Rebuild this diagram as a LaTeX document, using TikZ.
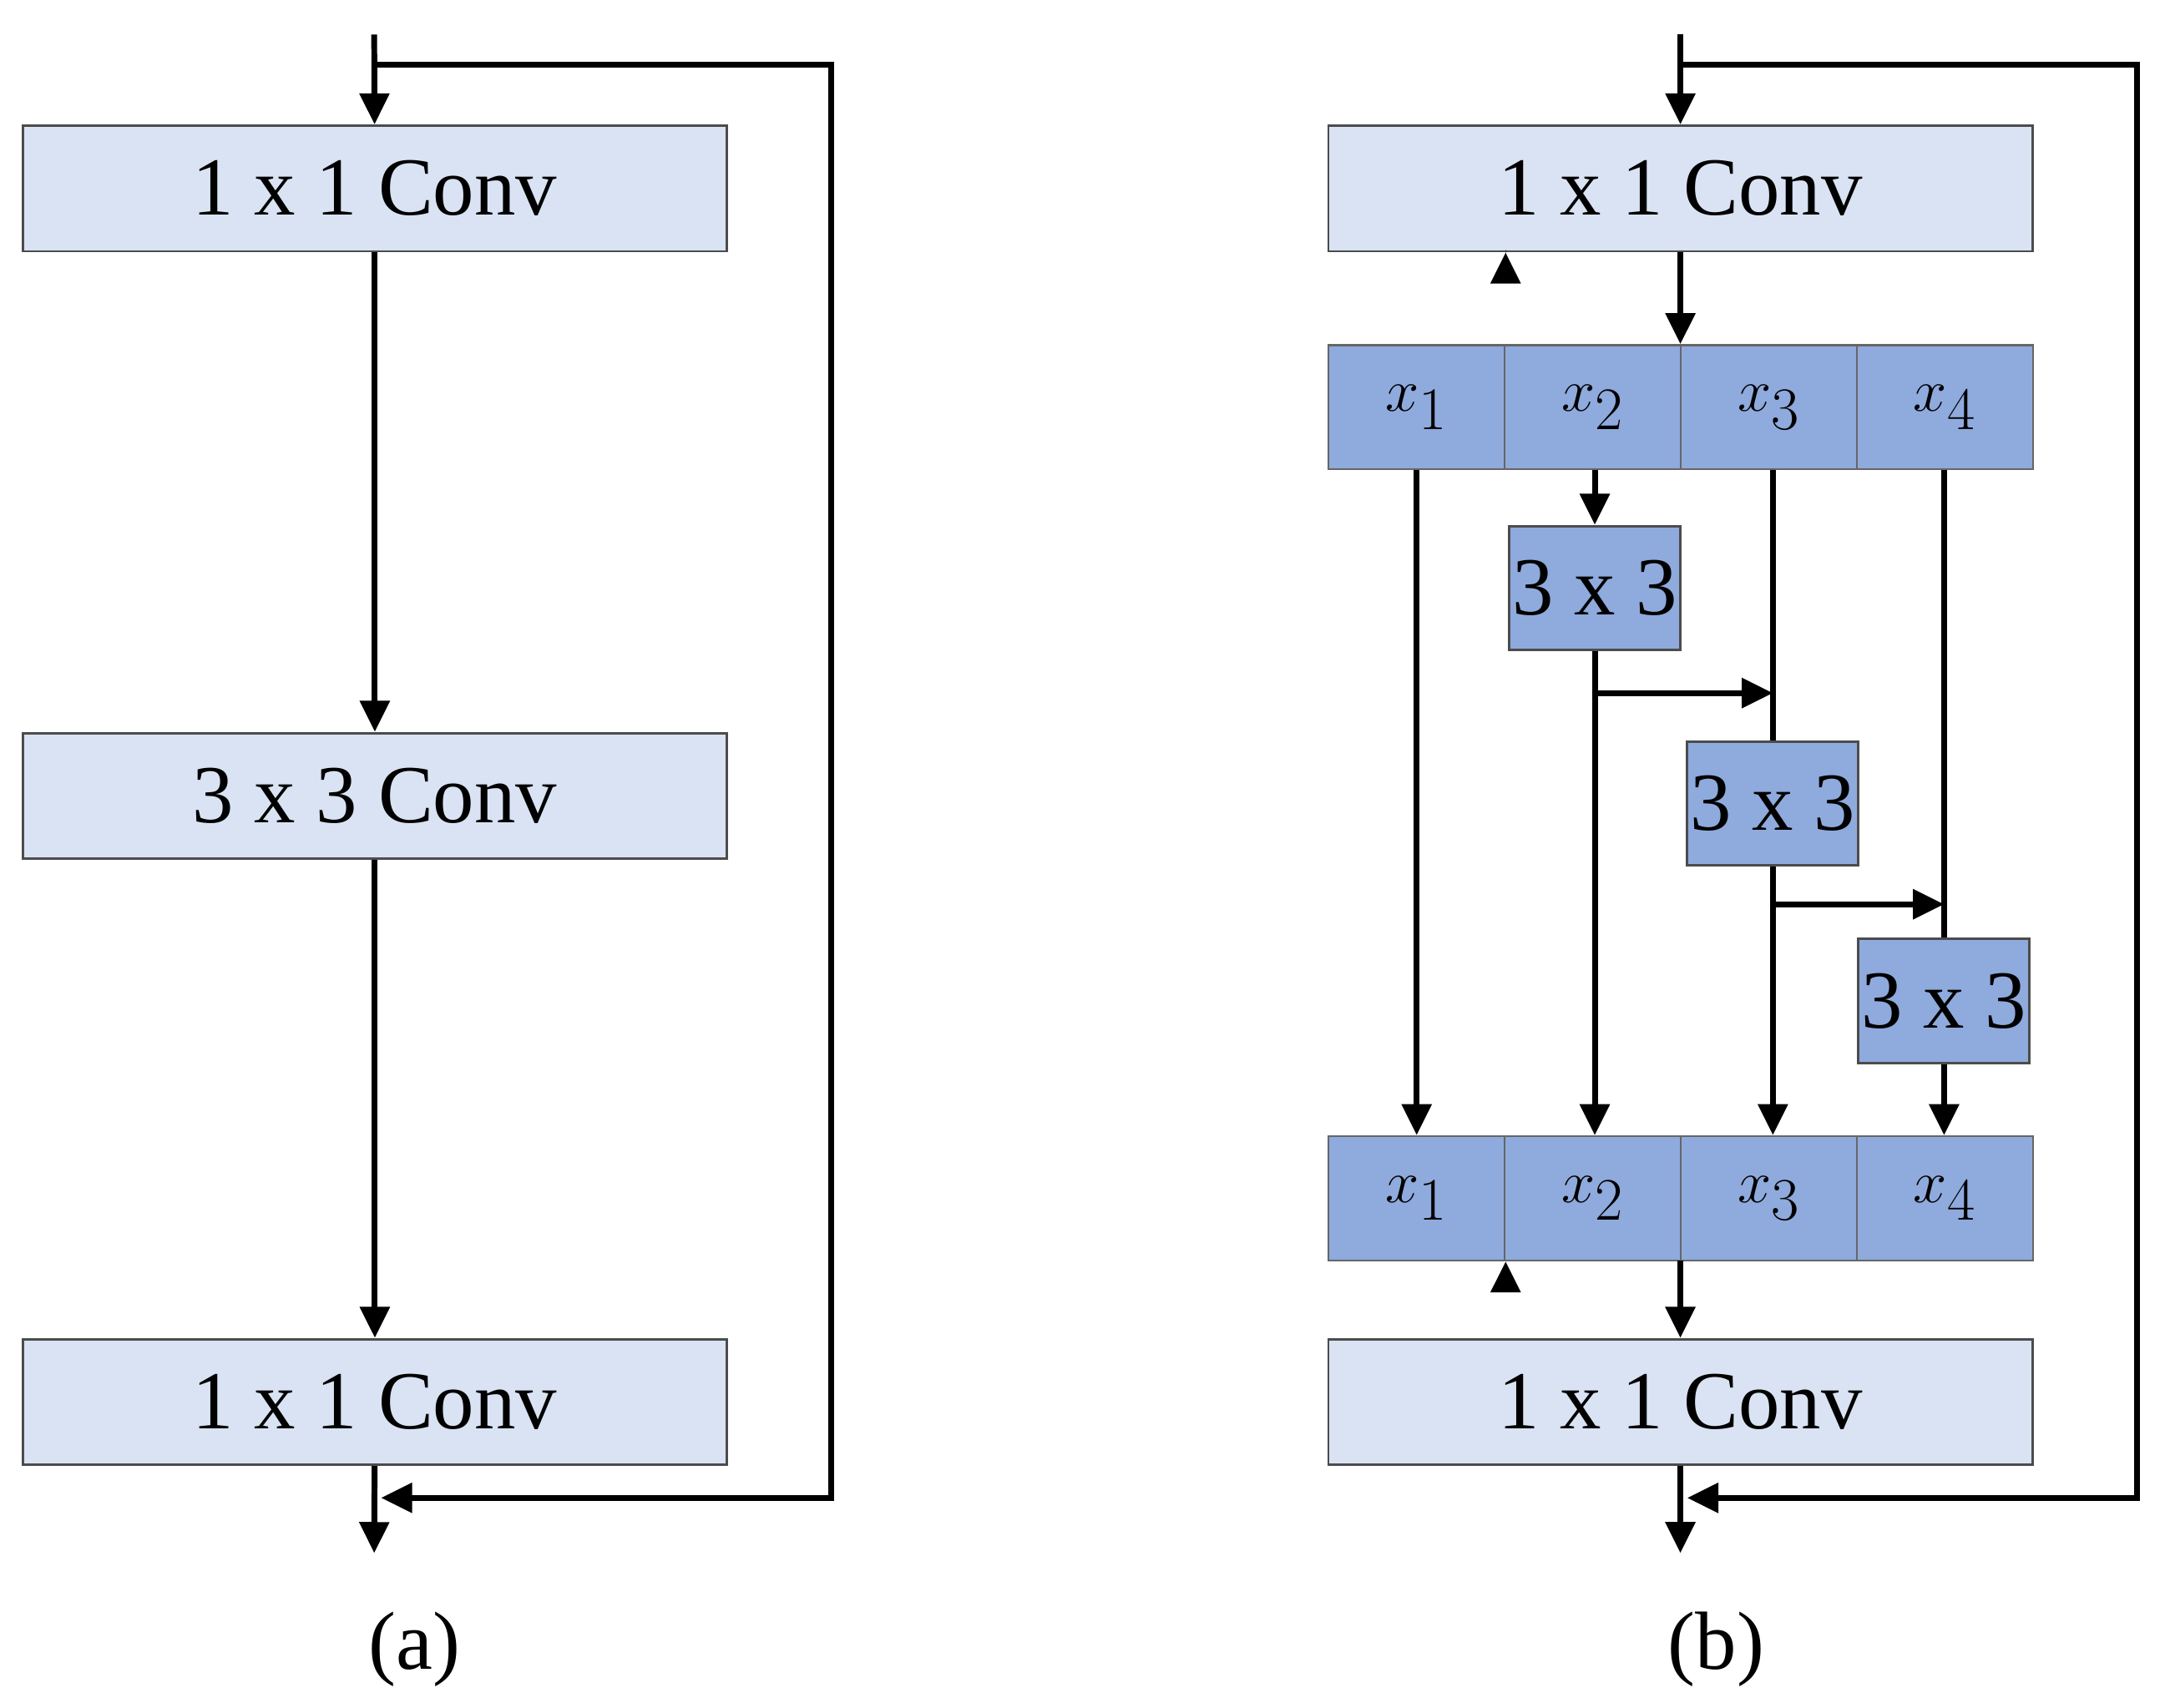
\documentclass[tikz,border=0pt]{standalone}
\usepackage{fontspec}
\setmainfont{Liberation Serif}
\usetikzlibrary{arrows.meta}
\definecolor{lb}{HTML}{DAE3F3}
\definecolor{db}{HTML}{8FAADC}
\begin{document}
\begin{tikzpicture}[x=0.02cm,y=-0.02cm,
 box/.style={draw=black!70,line width=1pt,fill=lb,minimum width=10.2cm,minimum height=1.82cm,inner sep=0,font=\fontsize{34}{40}\selectfont},
 cell/.style={draw=black!60,line width=0.8pt,fill=db,minimum width=2.55cm,minimum height=1.8cm,inner sep=0,font=\fontsize{34}{40}\selectfont},
 sq/.style={draw=black!70,line width=1pt,fill=db,minimum width=2.48cm,minimum height=1.8cm,inner sep=0,font=\fontsize{34}{40}\selectfont},
 ar/.style={line width=2.4pt,-{Triangle[length=0.45cm,width=0.42cm]}},
 ln/.style={line width=2.4pt}]
\useasboundingbox (0,0) rectangle (1568,1237);
% (a)
\node[box] (a1) at (271.5,136.5) {1 x 1 Conv};
\node[box] (a2) at (271.5,576.5) {3 x 3 Conv};
\node[box] (a3) at (271.5,1015.5) {1 x 1 Conv};
\coordinate (ain) at (271,25);
\coordinate (aout) at (271,1125);
\coordinate (as1) at (271,47);
\coordinate (as2) at (602,47);
\coordinate (as3) at (602,1085);
\coordinate (as4) at (276,1085);
\draw[ar] (ain) -- (a1);
\draw[ar] (a1) -- (a2);
\draw[ar] (a2) -- (a3);
\draw[ar] (a3) -- (aout);
\draw[ar] (as1) -- (as2) -- (as3) -- (as4);
\node[font=\fontsize{34}{40}\selectfont] (la) at (300,1195) {(a)};
% (b)
\node[box] (b1) at (1217,136.5) {1 x 1 Conv};
\node[box] (b4) at (1217,1015.5) {1 x 1 Conv};
\foreach \i/\x in {1/1026,2/1153.5,3/1281,4/1408.5}{
 \node[cell] (t\i) at (\x,295) {$x_{\i}$};
 \node[cell] (u\i) at (\x,868) {$x_{\i}$};
}
\node[sq] (s2) at (1155,426) {3 x 3};
\node[sq] (s3) at (1284,582) {3 x 3};
\node[sq] (s4) at (1408,725) {3 x 3};
\coordinate (bin) at (1217,25);
\coordinate (bout) at (1217,1125);
\draw[ar] (bin) -- (b1);
\draw[ar] (b1) -- (t1.north east |- b1.south) ++(0,0) ;
\draw[ar] (b1.south) -- (b1.south |- t1.north);
\draw[ar] (t1.south) -- (u1.north);
\draw[ar] (t2.south -| s2.north) -- (s2.north);
\draw[ar] (s2.south) -- (s2.south |- u2.north);
\draw[ln] (t3.south -| s3.north) -- (s3.north);
\draw[ar] (s3.south) -- (s3.south |- u3.north);
\draw[ln] (t4.south -| s4.north) -- (s4.north);
\draw[ar] (s4.south) -- (u4.north -| s4.south);
\coordinate (h2) at (1155,502);
\coordinate (h3) at (1284,655);
\draw[ar] (h2) -- (h2 -| s3.north);
\draw[ar] (h3) -- (h3 -| s4.north);
\draw[ar] (u1.south east |- u2.south) ++(0,0);
\draw[ar] (1217,913) -- (b4.north);
\draw[ar] (b4) -- (bout);
\coordinate (bs1) at (1217,47);
\coordinate (bs2) at (1548,47);
\coordinate (bs3) at (1548,1085);
\coordinate (bs4) at (1222,1085);
\draw[ar] (bs1) -- (bs2) -- (bs3) -- (bs4);
\node[font=\fontsize{34}{40}\selectfont] (lb) at (1243,1195) {(b)};
\end{tikzpicture}
\end{document}
